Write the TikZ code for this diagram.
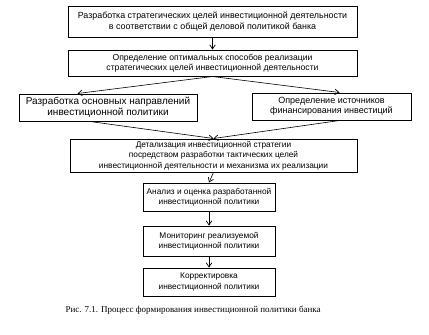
\documentclass[tikz,border=0pt]{standalone}
\usepackage{fontspec}
\setmainfont{Liberation Sans}
\newfontfamily\capfont{Liberation Serif}
\usetikzlibrary{arrows.meta,calc}
\begin{document}
\begin{tikzpicture}[x=1pt,y=-1pt,
  box/.style={draw,line width=1pt,align=center,inner sep=1pt,
    font=\fontsize{8.3}{10.5}\selectfont},
  fs/.style={font=\fontsize{#1}{10.5}\selectfont},
  arr/.style={line width=0.6pt,-{Straight Barb[length=4pt,width=5.5pt,line width=0.7pt]}}]
\useasboundingbox (0,0) rectangle (429,335);
\node[box,fs=8.9,minimum width=289pt,minimum height=31pt] (b1) at (212.5,21.5)
  {Разработка стратегических целей инвестиционной деятельности\\в соответствии с общей деловой политикой банка};
\node[box,fs=8.6,minimum width=289pt,minimum height=26pt] (b2) at (212.5,63)
  {Определение оптимальных способов реализации\\стратегических целей инвестиционной деятельности};
\node[box,fs=10,minimum width=178pt,minimum height=27pt] (b3) at (108,107.5)
  {Разработка основных направлений\\инвестиционной политики};
\node[box,fs=9,minimum width=159pt,minimum height=27pt] (b4) at (331.5,106.5)
  {Определение источников\\финансирования инвестиций};
\node[box,fs=8.3,minimum width=287pt,minimum height=33pt] (b5) at (213.5,155.5)
  {Детализация инвестиционной стратегии\\посредством разработки тактических целей\\инвестиционной деятельности и механизма их реализации};
\node[box,minimum width=132pt,minimum height=28pt] (b6) at (209,197)
  {Анализ и оценка разработанной\\инвестиционной политики};
\node[box,minimum width=132pt,minimum height=30pt] (b7) at (209,241)
  {Мониторинг реализуемой\\инвестиционной политики};
\node[box,minimum width=132pt,minimum height=28pt] (b8) at (209,282)
  {Корректировка\\инвестиционной политики};
\node[font=\capfont\fontsize{9}{11}\selectfont,anchor=west] (cap) at (62,310)
  {Рис. 7.1. Процесс формирования инвестиционной политики банка};
\draw[arr] (b1.south) -- (b2.north);
\draw[arr] (b2.south) -- ($(b3.north west)!0.33!(b3.north east)$);
\draw[arr] (b2.south) -- ($(b4.north west)!0.55!(b4.north east)$);
\draw[arr] ($(b3.south west)!0.4!(b3.south east)$) -- (b5.north);
\draw[arr] ($(b4.south west)!0.55!(b4.south east)$) -- (b5.north);
\draw[arr] (b5.south) -- (b6.north);
\draw[arr] (b6.south) -- (b7.north);
\draw[arr] (b7.south) -- (b8.north);
\end{tikzpicture}
\end{document}
